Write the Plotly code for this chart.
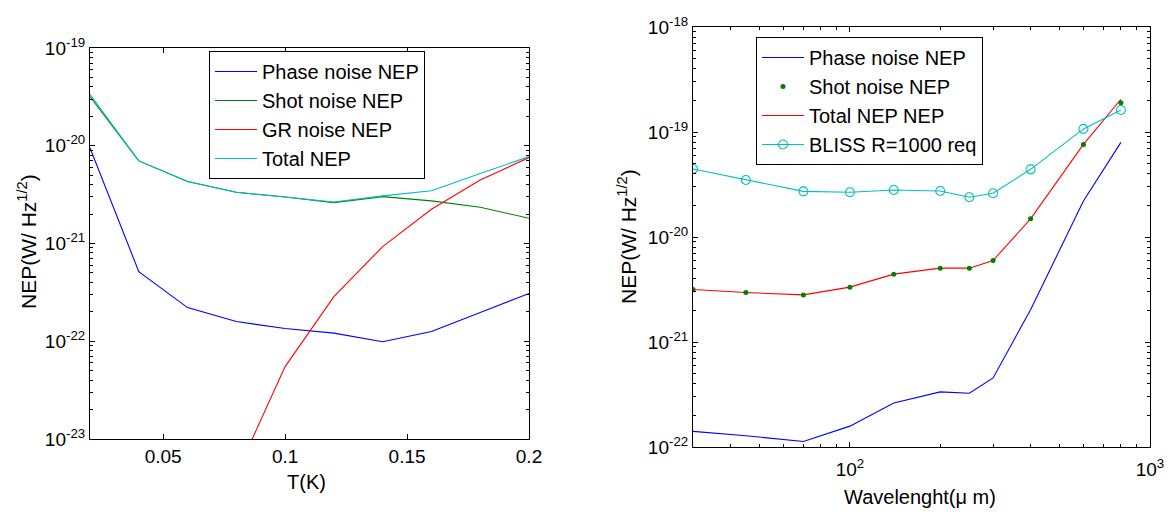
import plotly.graph_objects as go

# ---------------- data: left panel (vs temperature) ----------------
T_K = [0.02, 0.04, 0.06, 0.08, 0.10, 0.12, 0.14, 0.16, 0.18, 0.20]
phase_T = [9.5e-21, 5.16e-22, 2.21e-22, 1.59e-22, 1.35e-22, 1.21e-22, 9.9e-23, 1.26e-22, 1.97e-22, 3.08e-22]
shot_T = [3.18e-20, 7.0e-21, 4.3e-21, 3.34e-21, 2.99e-21, 2.62e-21, 3.02e-21, 2.73e-21, 2.35e-21, 1.81e-21]
T_gr = [0.08, 0.10, 0.12, 0.14, 0.16, 0.18, 0.20]
gr_T = [4.4e-24, 5.5e-23, 2.86e-22, 9.3e-22, 2.24e-21, 4.47e-21, 7.56e-21]
total_T = [3.36e-20, 7.0e-21, 4.3e-21, 3.34e-21, 2.99e-21, 2.66e-21, 3.07e-21, 3.47e-21, 5.19e-21, 7.74e-21]

# ---------------- data: right panel (vs wavelength) ----------------
wl_um = [30, 45, 70, 100, 140, 200, 250, 300, 400, 600, 800]
phase_wl = [1.41e-22, 1.28e-22, 1.13e-22, 1.58e-22, 2.63e-22, 3.35e-22, 3.25e-22, 4.55e-22, 2.03e-21, 2.2e-20, 7.96e-20]
shot_wl = [3.16e-21, 2.96e-21, 2.81e-21, 3.33e-21, 4.43e-21, 5.05e-21, 5.05e-21, 5.97e-21, 1.49e-20, 7.62e-20, 1.9e-19]
total_wl = [3.16e-21, 2.96e-21, 2.81e-21, 3.33e-21, 4.43e-21, 5.05e-21, 5.05e-21, 5.97e-21, 1.49e-20, 7.62e-20, 2.05e-19]
bliss_wl = [4.44e-20, 3.49e-20, 2.72e-20, 2.67e-20, 2.8e-20, 2.74e-20, 2.39e-20, 2.61e-20, 4.41e-20, 1.07e-19, 1.62e-19]

# tick labels
left_xticks = [0.05, 0.1, 0.15, 0.2]
left_xlabels = ["0.05", "0.1", "0.15", "0.2"]
left_yexp = [-23, -22, -21, -20, -19]
right_yexp = [-22, -21, -20, -19, -18]
right_xexp = [2, 3]

BLUE, GREEN, RED, CYAN = "#0000ff", "#008000", "#ff0000", "#00bfbf"
FONT = "Liberation Sans, Arial, sans-serif"

fig = go.Figure()

# left panel
fig.add_trace(go.Scatter(x=T_K, y=phase_T, mode="lines", name="Phase noise NEP",
                         line=dict(color=BLUE, width=1.1), xaxis="x", yaxis="y", legend="legend"))
fig.add_trace(go.Scatter(x=T_K, y=shot_T, mode="lines", name="Shot noise NEP",
                         line=dict(color=GREEN, width=1.1), xaxis="x", yaxis="y", legend="legend"))
fig.add_trace(go.Scatter(x=T_gr, y=gr_T, mode="lines", name="GR noise NEP",
                         line=dict(color=RED, width=1.1), xaxis="x", yaxis="y", legend="legend"))
fig.add_trace(go.Scatter(x=T_K, y=total_T, mode="lines", name="Total NEP",
                         line=dict(color=CYAN, width=1.1), xaxis="x", yaxis="y", legend="legend"))

# right panel
fig.add_trace(go.Scatter(x=wl_um, y=phase_wl, mode="lines", name="Phase noise NEP",
                         line=dict(color=BLUE, width=1.1), xaxis="x2", yaxis="y2", legend="legend2",
                         legendrank=1))
fig.add_trace(go.Scatter(x=wl_um, y=total_wl, mode="lines", name="Total NEP NEP",
                         line=dict(color=RED, width=1.1), xaxis="x2", yaxis="y2", legend="legend2",
                         legendrank=3))
fig.add_trace(go.Scatter(x=wl_um, y=shot_wl, mode="markers", name="Shot noise NEP",
                         marker=dict(color=GREEN, size=5), xaxis="x2", yaxis="y2", legend="legend2",
                         legendrank=2))
fig.add_trace(go.Scatter(x=wl_um, y=bliss_wl, mode="lines+markers", name="BLISS R=1000 req",
                         line=dict(color=CYAN, width=1.1),
                         marker=dict(symbol="circle-open", size=9, color=CYAN, line=dict(width=1.1)),
                         xaxis="x2", yaxis="y2", legend="legend2", legendrank=4))


def minor_log(e0, e1):
    return [k * 10.0 ** e for e in range(e0, e1) for k in range(2, 10)]


axis_common = dict(showline=True, linecolor="black", linewidth=1, mirror="allticks",
                   ticks="inside", ticklen=5, tickcolor="black", showgrid=False, zeroline=False,
                   automargin=False,
                   tickfont=dict(family=FONT, size=19, color="black"))

W, H = 1174, 517
fig.update_layout(
    width=W, height=H, margin=dict(l=0, r=0, t=0, b=0, autoexpand=False),
    paper_bgcolor="white", plot_bgcolor="white",
    font=dict(family=FONT, color="black"),
    xaxis=dict(domain=[90 / W, 529 / W], range=[0.02, 0.2], anchor="y",
               tickmode="array", tickvals=left_xticks, ticktext=left_xlabels,
               ticklabelstandoff=0, **axis_common),
    yaxis=dict(domain=[1 - 439 / H, 1 - 48 / H], type="log", range=[-23, -19], anchor="x",
               tickmode="array", tickvals=[10.0 ** e for e in left_yexp],
               ticktext=["10<sup>%d</sup>" % e for e in left_yexp],
               minor=dict(ticks="inside", ticklen=3, tickcolor="black",
                          tickmode="array", tickvals=minor_log(-23, -19)),
               **axis_common),
    xaxis2=dict(domain=[693 / W, 1150 / W], type="log", range=[1.4771, 3], anchor="y2",
                tickmode="array", tickvals=[10.0 ** e for e in right_xexp],
                ticktext=["10<sup>%d</sup>" % e for e in right_xexp],
                minor=dict(ticks="inside", ticklen=3, tickcolor="black",
                           tickmode="array", tickvals=[40, 50, 60, 70, 80, 90] + minor_log(2, 3)),
                ticklabelstandoff=5, **axis_common),
    yaxis2=dict(domain=[1 - 447 / H, 1 - 27 / H], type="log", range=[-22, -18], anchor="x2",
                tickmode="array", tickvals=[10.0 ** e for e in right_yexp],
                ticktext=["10<sup>%d</sup>" % e for e in right_yexp],
                minor=dict(ticks="inside", ticklen=3, tickcolor="black",
                           tickmode="array", tickvals=minor_log(-22, -18)),
                **axis_common),
    legend=dict(x=209 / W, y=1 - 51 / H, xanchor="left", yanchor="top",
                bgcolor="white", bordercolor="black", borderwidth=1, itemwidth=42,
                font=dict(family=FONT, size=20, color="black"), tracegroupgap=0),
    legend2=dict(x=756 / W, y=1 - 37 / H, xanchor="left", yanchor="top",
                 bgcolor="white", bordercolor="black", borderwidth=1, itemwidth=42,
                 font=dict(family=FONT, size=20, color="black"), tracegroupgap=2),
    showlegend=True,
)

ann_font = dict(family=FONT, size=20, color="black")
ann_common = dict(xref="paper", yref="paper", showarrow=False,
                  xanchor="center", yanchor="middle")
fig.add_annotation(text="T(K)", x=306 / W, y=1 - 482 / H, font=ann_font, **ann_common)
fig.add_annotation(text="Wavelenght(\u03bc m)", x=920 / W, y=1 - 497 / H, font=ann_font, **ann_common)
title_font = dict(family=FONT, size=21, color="black")
fig.add_annotation(text="NEP(W/ Hz<sup>1/2</sup>)", x=27 / W, y=1 - 242 / H, textangle=-90,
                   font=title_font, **ann_common)
fig.add_annotation(text="NEP(W/ Hz<sup>1/2</sup>)", x=627 / W, y=1 - 237 / H, textangle=-90,
                   font=title_font, **ann_common)

fig.write_html("out.html", config={"displayModeBar": False},
               post_script="document.body.style.margin='0px';")
